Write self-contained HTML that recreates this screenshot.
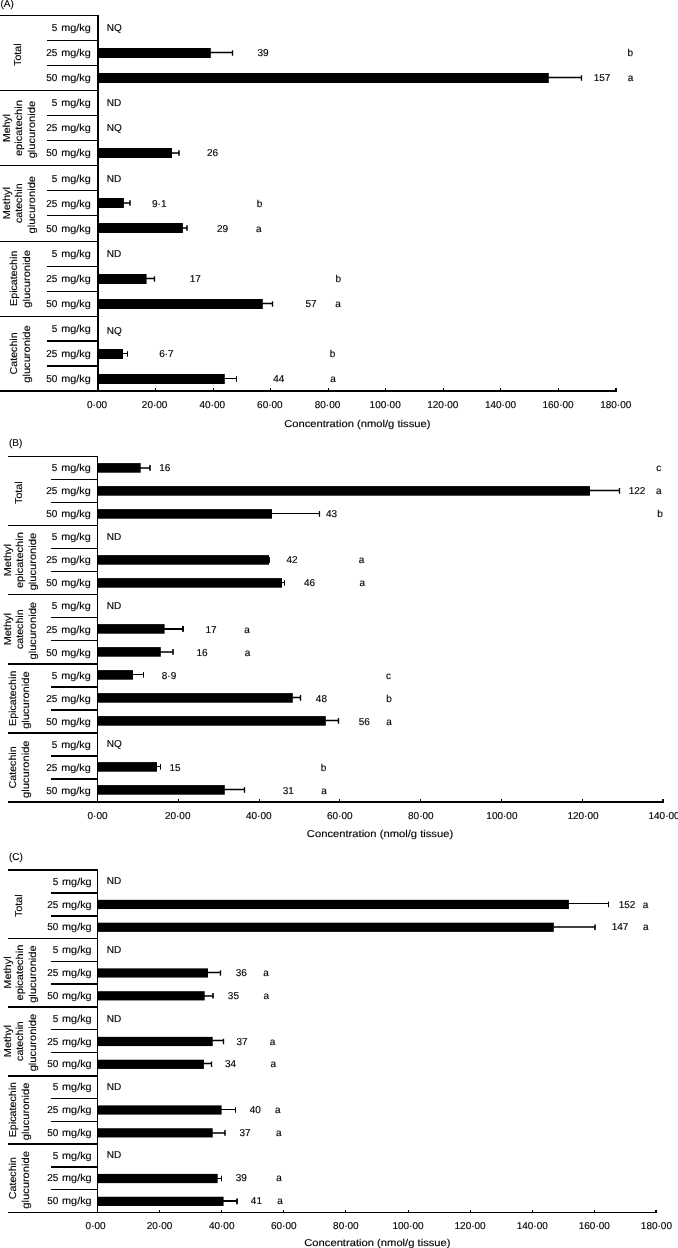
<!DOCTYPE html>
<html lang="en">
<head>
<meta charset="utf-8">
<title>Concentration of catechin metabolites in tissue</title>
<style>
html,body{margin:0;padding:0;background:#fff;}
body{width:678px;height:1248px;overflow:hidden;}
svg{display:block;text-rendering:geometricPrecision;}
.t,.t text{font-family:"Liberation Sans",sans-serif;font-size:10px;fill:#000;stroke:#000;stroke-width:.15px;}
.m text{text-anchor:middle;}
.w text{font-size:10px;}
.e text{text-anchor:end;}
.ln{shape-rendering:crispEdges;}
.ln rect{fill:#000;}
.bar rect{fill:#000;}
.er path{stroke:#000;fill:none;}
</style>
</head>
<body>
<svg width="678" height="1248" viewBox="0 0 678 1248">
<rect width="678" height="1248" fill="#fff"/>
<g class="panel">
<text class="t" x="0.5" y="7.2">(A)</text>
<g class="ln">
<rect x="0" y="15" width="97" height="1"/>
<rect x="47" y="40" width="50" height="1"/>
<rect x="47" y="65" width="50" height="1"/>
<rect x="0" y="90" width="97" height="1"/>
<rect x="47" y="115" width="50" height="1"/>
<rect x="47" y="140" width="50" height="1"/>
<rect x="0" y="165" width="97" height="1"/>
<rect x="47" y="190" width="50" height="1"/>
<rect x="47" y="215" width="50" height="1"/>
<rect x="0" y="241" width="97" height="1"/>
<rect x="47" y="266" width="50" height="1"/>
<rect x="47" y="291" width="50" height="1"/>
<rect x="0" y="316" width="97" height="1"/>
<rect x="47" y="340" width="50" height="2"/>
<rect x="47" y="365" width="50" height="2"/>
<rect x="0" y="390" width="617" height="2"/>
<rect x="97" y="15" width="2" height="375"/>
<rect x="155" y="388" width="1" height="2"/>
<rect x="213" y="388" width="1" height="2"/>
<rect x="270" y="388" width="1" height="2"/>
<rect x="328" y="388" width="1" height="2"/>
<rect x="385" y="388" width="1" height="2"/>
<rect x="443" y="388" width="1" height="2"/>
<rect x="500" y="388" width="1" height="2"/>
<rect x="558" y="388" width="1" height="2"/>
<rect x="615" y="388" width="2" height="2"/>
</g>
<g class="t m k">
<text x="97" y="408">0·00</text>
<text x="154.64" y="408">20·00</text>
<text x="212.27" y="408">40·00</text>
<text x="269.91" y="408">60·00</text>
<text x="327.54" y="408">80·00</text>
<text x="385.18" y="408">100·00</text>
<text x="442.81" y="408">120·00</text>
<text x="500.45" y="408">140·00</text>
<text x="558.08" y="408">160·00</text>
<text x="615.72" y="408">180·00</text>
</g>
<g class="t m w"><text textLength="146.3" lengthAdjust="spacingAndGlyphs" x="357.3" y="426.8">Concentration (nmol/g tissue)</text></g>
<g class="t e">
<text x="90.7" y="31"><tspan>5</tspan> <tspan dx="1" textLength="29.5" lengthAdjust="spacingAndGlyphs">mg/kg</tspan></text>
<text x="90.7" y="56"><tspan>25</tspan> <tspan dx="1" textLength="29.5" lengthAdjust="spacingAndGlyphs">mg/kg</tspan></text>
<text x="90.7" y="81"><tspan>50</tspan> <tspan dx="1" textLength="29.5" lengthAdjust="spacingAndGlyphs">mg/kg</tspan></text>
<text x="90.7" y="106"><tspan>5</tspan> <tspan dx="1" textLength="29.5" lengthAdjust="spacingAndGlyphs">mg/kg</tspan></text>
<text x="90.7" y="131"><tspan>25</tspan> <tspan dx="1" textLength="29.5" lengthAdjust="spacingAndGlyphs">mg/kg</tspan></text>
<text x="90.7" y="156"><tspan>50</tspan> <tspan dx="1" textLength="29.5" lengthAdjust="spacingAndGlyphs">mg/kg</tspan></text>
<text x="90.7" y="182"><tspan>5</tspan> <tspan dx="1" textLength="29.5" lengthAdjust="spacingAndGlyphs">mg/kg</tspan></text>
<text x="90.7" y="207"><tspan>25</tspan> <tspan dx="1" textLength="29.5" lengthAdjust="spacingAndGlyphs">mg/kg</tspan></text>
<text x="90.7" y="232"><tspan>50</tspan> <tspan dx="1" textLength="29.5" lengthAdjust="spacingAndGlyphs">mg/kg</tspan></text>
<text x="90.7" y="257"><tspan>5</tspan> <tspan dx="1" textLength="29.5" lengthAdjust="spacingAndGlyphs">mg/kg</tspan></text>
<text x="90.7" y="282"><tspan>25</tspan> <tspan dx="1" textLength="29.5" lengthAdjust="spacingAndGlyphs">mg/kg</tspan></text>
<text x="90.7" y="307"><tspan>50</tspan> <tspan dx="1" textLength="29.5" lengthAdjust="spacingAndGlyphs">mg/kg</tspan></text>
<text x="90.7" y="332"><tspan>5</tspan> <tspan dx="1" textLength="29.5" lengthAdjust="spacingAndGlyphs">mg/kg</tspan></text>
<text x="90.7" y="357"><tspan>25</tspan> <tspan dx="1" textLength="29.5" lengthAdjust="spacingAndGlyphs">mg/kg</tspan></text>
<text x="90.7" y="382"><tspan>50</tspan> <tspan dx="1" textLength="29.5" lengthAdjust="spacingAndGlyphs">mg/kg</tspan></text>
</g>
<g class="t m w">
<text textLength="22.6" lengthAdjust="spacingAndGlyphs" transform="translate(21.4 54.65) rotate(-90)">Total</text>
<text textLength="28" lengthAdjust="spacingAndGlyphs" transform="translate(10.2 128.13) rotate(-90)">Mehyl</text>
<text textLength="55.8" lengthAdjust="spacingAndGlyphs" transform="translate(22 128.13) rotate(-90)">epicatechin</text>
<text textLength="57.5" lengthAdjust="spacingAndGlyphs" transform="translate(35 129.63) rotate(-90)">glucuronide</text>
<text textLength="32.3" lengthAdjust="spacingAndGlyphs" transform="translate(10.2 203.23) rotate(-90)">Methyl</text>
<text textLength="39.6" lengthAdjust="spacingAndGlyphs" transform="translate(22 203.23) rotate(-90)">catechin</text>
<text textLength="57.5" lengthAdjust="spacingAndGlyphs" transform="translate(35 204.73) rotate(-90)">glucuronide</text>
<text textLength="55.3" lengthAdjust="spacingAndGlyphs" transform="translate(17.4 278.31) rotate(-90)">Epicatechin</text>
<text textLength="57.5" lengthAdjust="spacingAndGlyphs" transform="translate(29.6 278.92) rotate(-90)">glucuronide</text>
<text textLength="42" lengthAdjust="spacingAndGlyphs" transform="translate(17.4 353.41) rotate(-90)">Catechin</text>
<text textLength="57.5" lengthAdjust="spacingAndGlyphs" transform="translate(29.6 354.01) rotate(-90)">glucuronide</text>
</g>
<g class="bar"><rect x="97" y="48" width="113.8" height="10"/><rect x="97" y="73" width="451.8" height="10"/><rect x="97" y="148" width="75" height="10"/><rect x="97" y="198" width="26.9" height="10"/><rect x="97" y="223" width="85.9" height="10"/><rect x="97" y="274" width="49.6" height="10"/><rect x="97" y="299" width="165.8" height="10"/><rect x="97" y="349" width="26" height="10"/><rect x="97" y="374" width="127.8" height="10"/></g>
<g class="er"><path stroke-width="1.3" d="M210.3 52.5H232.5M232.5 50.2V55.8"/><path stroke-width="1.3" d="M548.3 77.5H581.5M581.5 75.2V80.8"/><path stroke-width="1.5" d="M171.5 153H179M179 150.2V155.8"/><path stroke-width="1.5" d="M123.4 203H130M130 200.2V205.8"/><path stroke-width="1.5" d="M182.4 228H187M187 225.2V230.8"/><path stroke-width="1.3" d="M146.1 278.5H154.5M154.5 276.2V281.8"/><path stroke-width="1.3" d="M262.3 303.5H272.5M272.5 301.2V306.8"/><path stroke-width="1" d="M122.5 353.5H127.5M127.5 351.2V356.8"/><path stroke-width="1" d="M224.3 378.5H236.5M236.5 376.2V381.8"/></g>
<g class="t"><text x="106.8" y="31">NQ</text><text text-anchor="middle" x="263" y="56">39</text><text text-anchor="middle" x="630.2" y="56">b</text><text text-anchor="middle" x="602" y="81">157</text><text text-anchor="middle" x="630.5" y="81">a</text><text x="106.8" y="106">ND</text><text x="106.8" y="131">NQ</text><text text-anchor="middle" x="212.5" y="156">26</text><text x="106.8" y="182">ND</text><text text-anchor="middle" x="159.3" y="207">9·1</text><text text-anchor="middle" x="259.5" y="207">b</text><text text-anchor="middle" x="222.5" y="232">29</text><text text-anchor="middle" x="258.7" y="232">a</text><text x="106.8" y="257">ND</text><text text-anchor="middle" x="195.3" y="282">17</text><text text-anchor="middle" x="338.4" y="282">b</text><text text-anchor="middle" x="311" y="307">57</text><text text-anchor="middle" x="338" y="307">a</text><text x="106.8" y="334">NQ</text><text text-anchor="middle" x="166.4" y="357">6·7</text><text text-anchor="middle" x="332.5" y="357">b</text><text text-anchor="middle" x="278.8" y="382">44</text><text text-anchor="middle" x="333" y="382">a</text></g>
</g>
<g class="panel">
<text class="t" x="9" y="445.8">(B)</text>
<g class="ln">
<rect x="8" y="456" width="89" height="1"/>
<rect x="51" y="479" width="46" height="1"/>
<rect x="51" y="502" width="46" height="1"/>
<rect x="8" y="525" width="89" height="1"/>
<rect x="51" y="548" width="46" height="1"/>
<rect x="51" y="571" width="46" height="1"/>
<rect x="8" y="594" width="89" height="1"/>
<rect x="51" y="617" width="46" height="1"/>
<rect x="51" y="640" width="46" height="1"/>
<rect x="8" y="663" width="89" height="2"/>
<rect x="51" y="686" width="46" height="2"/>
<rect x="51" y="709" width="46" height="2"/>
<rect x="8" y="732" width="89" height="2"/>
<rect x="51" y="755" width="46" height="2"/>
<rect x="51" y="778" width="46" height="2"/>
<rect x="8" y="801" width="656" height="2"/>
<rect x="97" y="456" width="1" height="345"/>
<rect x="178" y="799" width="1" height="2"/>
<rect x="259" y="799" width="1" height="2"/>
<rect x="339" y="799" width="1" height="2"/>
<rect x="420" y="799" width="1" height="2"/>
<rect x="501" y="799" width="1" height="2"/>
<rect x="582" y="799" width="1" height="2"/>
<rect x="662" y="799" width="2" height="2"/>
</g>
<g class="t m k">
<text x="97.5" y="819">0·00</text>
<text x="177.67" y="819">20·00</text>
<text x="258.73" y="819">40·00</text>
<text x="339.8" y="819">60·00</text>
<text x="420.86" y="819">80·00</text>
<text x="501.93" y="819">100·00</text>
<text x="582.99" y="819">120·00</text>
<text x="664.06" y="819">140·00</text>
</g>
<g class="t m w"><text textLength="146.3" lengthAdjust="spacingAndGlyphs" x="380" y="837">Concentration (nmol/g tissue)</text></g>
<g class="t e">
<text x="90.7" y="471"><tspan>5</tspan> <tspan dx="1" textLength="29.5" lengthAdjust="spacingAndGlyphs">mg/kg</tspan></text>
<text x="90.7" y="494"><tspan>25</tspan> <tspan dx="1" textLength="29.5" lengthAdjust="spacingAndGlyphs">mg/kg</tspan></text>
<text x="90.7" y="517"><tspan>50</tspan> <tspan dx="1" textLength="29.5" lengthAdjust="spacingAndGlyphs">mg/kg</tspan></text>
<text x="90.7" y="540"><tspan>5</tspan> <tspan dx="1" textLength="29.5" lengthAdjust="spacingAndGlyphs">mg/kg</tspan></text>
<text x="90.7" y="563"><tspan>25</tspan> <tspan dx="1" textLength="29.5" lengthAdjust="spacingAndGlyphs">mg/kg</tspan></text>
<text x="90.7" y="586"><tspan>50</tspan> <tspan dx="1" textLength="29.5" lengthAdjust="spacingAndGlyphs">mg/kg</tspan></text>
<text x="90.7" y="609"><tspan>5</tspan> <tspan dx="1" textLength="29.5" lengthAdjust="spacingAndGlyphs">mg/kg</tspan></text>
<text x="90.7" y="633"><tspan>25</tspan> <tspan dx="1" textLength="29.5" lengthAdjust="spacingAndGlyphs">mg/kg</tspan></text>
<text x="90.7" y="656"><tspan>50</tspan> <tspan dx="1" textLength="29.5" lengthAdjust="spacingAndGlyphs">mg/kg</tspan></text>
<text x="90.7" y="679"><tspan>5</tspan> <tspan dx="1" textLength="29.5" lengthAdjust="spacingAndGlyphs">mg/kg</tspan></text>
<text x="90.7" y="702"><tspan>25</tspan> <tspan dx="1" textLength="29.5" lengthAdjust="spacingAndGlyphs">mg/kg</tspan></text>
<text x="90.7" y="725"><tspan>50</tspan> <tspan dx="1" textLength="29.5" lengthAdjust="spacingAndGlyphs">mg/kg</tspan></text>
<text x="90.7" y="748"><tspan>5</tspan> <tspan dx="1" textLength="29.5" lengthAdjust="spacingAndGlyphs">mg/kg</tspan></text>
<text x="90.7" y="771"><tspan>25</tspan> <tspan dx="1" textLength="29.5" lengthAdjust="spacingAndGlyphs">mg/kg</tspan></text>
<text x="90.7" y="794"><tspan>50</tspan> <tspan dx="1" textLength="29.5" lengthAdjust="spacingAndGlyphs">mg/kg</tspan></text>
</g>
<g class="t m w">
<text textLength="22.6" lengthAdjust="spacingAndGlyphs" transform="translate(21.7 492.65) rotate(-90)">Total</text>
<text textLength="32.3" lengthAdjust="spacingAndGlyphs" transform="translate(10.8 560.13) rotate(-90)">Methyl</text>
<text textLength="55.8" lengthAdjust="spacingAndGlyphs" transform="translate(23.1 560.13) rotate(-90)">epicatechin</text>
<text textLength="57.5" lengthAdjust="spacingAndGlyphs" transform="translate(35.6 561.63) rotate(-90)">glucuronide</text>
<text textLength="32.3" lengthAdjust="spacingAndGlyphs" transform="translate(10.8 629.23) rotate(-90)">Methyl</text>
<text textLength="39.6" lengthAdjust="spacingAndGlyphs" transform="translate(23.1 629.23) rotate(-90)">catechin</text>
<text textLength="57.5" lengthAdjust="spacingAndGlyphs" transform="translate(35.6 630.73) rotate(-90)">glucuronide</text>
<text textLength="55.3" lengthAdjust="spacingAndGlyphs" transform="translate(16.4 698.32) rotate(-90)">Epicatechin</text>
<text textLength="57.5" lengthAdjust="spacingAndGlyphs" transform="translate(29.2 700.12) rotate(-90)">glucuronide</text>
<text textLength="42" lengthAdjust="spacingAndGlyphs" transform="translate(16.4 767.4) rotate(-90)">Catechin</text>
<text textLength="57.5" lengthAdjust="spacingAndGlyphs" transform="translate(29.2 769.2) rotate(-90)">glucuronide</text>
</g>
<g class="bar"><rect x="97" y="463.1" width="43.7" height="9.6"/><rect x="97" y="486.1" width="493" height="9.6"/><rect x="97" y="509.1" width="175" height="9.6"/><rect x="97" y="555.1" width="172" height="9.6"/><rect x="97" y="578.1" width="185" height="9.6"/><rect x="97" y="624.1" width="67.6" height="9.6"/><rect x="97" y="647.1" width="63.8" height="9.6"/><rect x="97" y="670.1" width="36" height="9.6"/><rect x="97" y="693.1" width="195.8" height="9.6"/><rect x="97" y="716.1" width="228.8" height="9.6"/><rect x="97" y="762.1" width="60" height="9.6"/><rect x="97" y="785.1" width="127.8" height="9.6"/></g>
<g class="er"><path stroke-width="1.6" d="M140.2 468H150M150 465.1V470.7"/><path stroke-width="1.3" d="M589.5 490.5H619.5M619.5 488.1V493.7"/><path stroke-width="1.2" d="M271.5 513.5H319.5M319.5 511.1V516.7"/><path stroke-width="1" d="M268.5 559.5H269.5M269.5 557.1V562.7"/><path stroke-width="1" d="M281.5 582.5H284.5M284.5 580.1V585.7"/><path stroke-width="2" d="M164.1 629H183M183 626.1V631.7"/><path stroke-width="1.6" d="M160.3 652H173M173 649.1V654.7"/><path stroke-width="1" d="M132.5 674.5H143.5M143.5 672.1V677.7"/><path stroke-width="1.4" d="M292.3 697.5H300.5M300.5 695.1V700.7"/><path stroke-width="1.3" d="M325.3 720.5H338.5M338.5 718.1V723.7"/><path stroke-width="1" d="M156.5 766.5H160.5M160.5 764.1V769.7"/><path stroke-width="1.3" d="M224.3 789.5H244.5M244.5 787.1V792.7"/></g>
<g class="t"><text text-anchor="middle" x="164.8" y="471">16</text><text text-anchor="middle" x="658.7" y="471">c</text><text text-anchor="middle" x="637" y="494">122</text><text text-anchor="middle" x="658.7" y="494">a</text><text text-anchor="middle" x="331.5" y="517">43</text><text text-anchor="middle" x="660" y="517">b</text><text x="106.8" y="540">ND</text><text text-anchor="middle" x="292" y="563">42</text><text text-anchor="middle" x="361.5" y="563">a</text><text text-anchor="middle" x="309.5" y="586">46</text><text text-anchor="middle" x="362.4" y="586">a</text><text x="106.8" y="609">ND</text><text text-anchor="middle" x="211" y="633">17</text><text text-anchor="middle" x="247" y="633">a</text><text text-anchor="middle" x="202" y="656">16</text><text text-anchor="middle" x="247.5" y="656">a</text><text text-anchor="middle" x="169" y="679">8·9</text><text text-anchor="middle" x="388.4" y="679">c</text><text text-anchor="middle" x="321.4" y="702">48</text><text text-anchor="middle" x="389" y="702">b</text><text text-anchor="middle" x="364.2" y="725">56</text><text text-anchor="middle" x="389" y="725">a</text><text x="106.8" y="747">NQ</text><text text-anchor="middle" x="175" y="771">15</text><text text-anchor="middle" x="323.5" y="771">b</text><text text-anchor="middle" x="288.2" y="794">31</text><text text-anchor="middle" x="324" y="794">a</text></g>
</g>
<g class="panel">
<text class="t" x="9" y="860.4">(C)</text>
<g class="ln">
<rect x="8" y="869" width="89" height="2"/>
<rect x="51" y="892" width="46" height="2"/>
<rect x="51" y="915" width="46" height="2"/>
<rect x="8" y="938" width="89" height="1"/>
<rect x="51" y="961" width="46" height="1"/>
<rect x="51" y="983" width="46" height="2"/>
<rect x="8" y="1006" width="89" height="2"/>
<rect x="51" y="1029" width="46" height="1"/>
<rect x="51" y="1052" width="46" height="1"/>
<rect x="8" y="1075" width="89" height="2"/>
<rect x="51" y="1098" width="46" height="1"/>
<rect x="51" y="1121" width="46" height="1"/>
<rect x="8" y="1143" width="89" height="2"/>
<rect x="51" y="1166" width="46" height="2"/>
<rect x="51" y="1189" width="46" height="1"/>
<rect x="8" y="1212" width="649" height="1"/>
<rect x="97" y="869" width="1" height="343"/>
<rect x="159" y="1210" width="1" height="2"/>
<rect x="221" y="1210" width="1" height="2"/>
<rect x="283" y="1210" width="1" height="2"/>
<rect x="345" y="1210" width="1" height="2"/>
<rect x="408" y="1210" width="1" height="2"/>
<rect x="470" y="1210" width="1" height="2"/>
<rect x="532" y="1210" width="1" height="2"/>
<rect x="594" y="1210" width="1" height="2"/>
<rect x="655" y="1210" width="2" height="2"/>
</g>
<g class="t m k">
<text x="95.6" y="1229">0·00</text>
<text x="159.6" y="1229">20·00</text>
<text x="221.7" y="1229">40·00</text>
<text x="283.8" y="1229">60·00</text>
<text x="345.9" y="1229">80·00</text>
<text x="408" y="1229">100·00</text>
<text x="470.1" y="1229">120·00</text>
<text x="532.2" y="1229">140·00</text>
<text x="594.3" y="1229">160·00</text>
<text x="656.4" y="1229">180·00</text>
</g>
<g class="t m w"><text textLength="146.3" lengthAdjust="spacingAndGlyphs" x="377.4" y="1246.4">Concentration (nmol/g tissue)</text></g>
<g class="t e">
<text x="91.6" y="885"><tspan>5</tspan> <tspan dx="1" textLength="29.5" lengthAdjust="spacingAndGlyphs">mg/kg</tspan></text>
<text x="91.6" y="908"><tspan>25</tspan> <tspan dx="1" textLength="29.5" lengthAdjust="spacingAndGlyphs">mg/kg</tspan></text>
<text x="91.6" y="930"><tspan>50</tspan> <tspan dx="1" textLength="29.5" lengthAdjust="spacingAndGlyphs">mg/kg</tspan></text>
<text x="91.6" y="953"><tspan>5</tspan> <tspan dx="1" textLength="29.5" lengthAdjust="spacingAndGlyphs">mg/kg</tspan></text>
<text x="91.6" y="976"><tspan>25</tspan> <tspan dx="1" textLength="29.5" lengthAdjust="spacingAndGlyphs">mg/kg</tspan></text>
<text x="91.6" y="999"><tspan>50</tspan> <tspan dx="1" textLength="29.5" lengthAdjust="spacingAndGlyphs">mg/kg</tspan></text>
<text x="91.6" y="1022"><tspan>5</tspan> <tspan dx="1" textLength="29.5" lengthAdjust="spacingAndGlyphs">mg/kg</tspan></text>
<text x="91.6" y="1045"><tspan>25</tspan> <tspan dx="1" textLength="29.5" lengthAdjust="spacingAndGlyphs">mg/kg</tspan></text>
<text x="91.6" y="1067"><tspan>50</tspan> <tspan dx="1" textLength="29.5" lengthAdjust="spacingAndGlyphs">mg/kg</tspan></text>
<text x="91.6" y="1090"><tspan>5</tspan> <tspan dx="1" textLength="29.5" lengthAdjust="spacingAndGlyphs">mg/kg</tspan></text>
<text x="91.6" y="1113"><tspan>25</tspan> <tspan dx="1" textLength="29.5" lengthAdjust="spacingAndGlyphs">mg/kg</tspan></text>
<text x="91.6" y="1136"><tspan>50</tspan> <tspan dx="1" textLength="29.5" lengthAdjust="spacingAndGlyphs">mg/kg</tspan></text>
<text x="91.6" y="1159"><tspan>5</tspan> <tspan dx="1" textLength="29.5" lengthAdjust="spacingAndGlyphs">mg/kg</tspan></text>
<text x="91.6" y="1181"><tspan>25</tspan> <tspan dx="1" textLength="29.5" lengthAdjust="spacingAndGlyphs">mg/kg</tspan></text>
<text x="91.6" y="1204"><tspan>50</tspan> <tspan dx="1" textLength="29.5" lengthAdjust="spacingAndGlyphs">mg/kg</tspan></text>
</g>
<g class="t m w">
<text textLength="22.6" lengthAdjust="spacingAndGlyphs" transform="translate(21.7 905.66) rotate(-90)">Total</text>
<text textLength="32.3" lengthAdjust="spacingAndGlyphs" transform="translate(10.8 972.58) rotate(-90)">Methyl</text>
<text textLength="55.8" lengthAdjust="spacingAndGlyphs" transform="translate(23.1 972.58) rotate(-90)">epicatechin</text>
<text textLength="57.5" lengthAdjust="spacingAndGlyphs" transform="translate(35.6 974.08) rotate(-90)">glucuronide</text>
<text textLength="32.3" lengthAdjust="spacingAndGlyphs" transform="translate(10.8 1041.1) rotate(-90)">Methyl</text>
<text textLength="39.6" lengthAdjust="spacingAndGlyphs" transform="translate(23.1 1041.1) rotate(-90)">catechin</text>
<text textLength="57.5" lengthAdjust="spacingAndGlyphs" transform="translate(35.6 1042.6) rotate(-90)">glucuronide</text>
<text textLength="55.3" lengthAdjust="spacingAndGlyphs" transform="translate(16.4 1109.62) rotate(-90)">Epicatechin</text>
<text textLength="57.5" lengthAdjust="spacingAndGlyphs" transform="translate(29.2 1111.42) rotate(-90)">glucuronide</text>
<text textLength="42" lengthAdjust="spacingAndGlyphs" transform="translate(16.4 1178.14) rotate(-90)">Catechin</text>
<text textLength="57.5" lengthAdjust="spacingAndGlyphs" transform="translate(29.2 1179.94) rotate(-90)">glucuronide</text>
</g>
<g class="bar"><rect x="97" y="899.84" width="471.9" height="9.2"/><rect x="97" y="922.68" width="456.8" height="9.2"/><rect x="97" y="968.36" width="111" height="9.2"/><rect x="97" y="991.2" width="107.7" height="9.2"/><rect x="97" y="1036.88" width="115.7" height="9.2"/><rect x="97" y="1059.72" width="106.9" height="9.2"/><rect x="97" y="1105.4" width="124.6" height="9.2"/><rect x="97" y="1128.24" width="115.7" height="9.2"/><rect x="97" y="1173.92" width="120.7" height="9.2"/><rect x="97" y="1196.76" width="126.6" height="9.2"/></g>
<g class="er"><path stroke-width="1" d="M568.4 903.5H608.5M608.5 901.64V907.24"/><path stroke-width="1.6" d="M553.3 927H595M595 924.48V930.08"/><path stroke-width="1.3" d="M207.5 972.5H220.5M220.5 970.16V975.76"/><path stroke-width="1.6" d="M204.2 996H213M213 993V998.6"/><path stroke-width="1.3" d="M212.2 1040.5H223.5M223.5 1038.68V1044.28"/><path stroke-width="1.3" d="M203.4 1063.5H211.5M211.5 1061.52V1067.12"/><path stroke-width="1" d="M221.1 1109.5H235.5M235.5 1107.2V1112.8"/><path stroke-width="1.5" d="M212.2 1133H225M225 1130.04V1135.64"/><path stroke-width="1" d="M217.2 1178.5H221.5M221.5 1175.72V1181.32"/><path stroke-width="1.8" d="M223.1 1201H237M237 1198.56V1204.16"/></g>
<g class="t"><text x="106.8" y="884">ND</text><text text-anchor="middle" x="627" y="908">152</text><text text-anchor="middle" x="645.6" y="908">a</text><text text-anchor="middle" x="620" y="930">147</text><text text-anchor="middle" x="645.8" y="930">a</text><text x="106.8" y="953">ND</text><text text-anchor="middle" x="241.2" y="976">36</text><text text-anchor="middle" x="266" y="976">a</text><text text-anchor="middle" x="233.4" y="999">35</text><text text-anchor="middle" x="266.4" y="999">a</text><text x="106.8" y="1022">ND</text><text text-anchor="middle" x="242" y="1045">37</text><text text-anchor="middle" x="272.6" y="1045">a</text><text text-anchor="middle" x="230.5" y="1067">34</text><text text-anchor="middle" x="273.2" y="1067">a</text><text x="106.8" y="1090">ND</text><text text-anchor="middle" x="255.2" y="1113">40</text><text text-anchor="middle" x="277.9" y="1113">a</text><text text-anchor="middle" x="245" y="1136">37</text><text text-anchor="middle" x="278.8" y="1136">a</text><text x="106.8" y="1158">ND</text><text text-anchor="middle" x="241.3" y="1181">39</text><text text-anchor="middle" x="279" y="1181">a</text><text text-anchor="middle" x="256.4" y="1204">41</text><text text-anchor="middle" x="280" y="1204">a</text></g>
</g>
</svg>
</body>
</html>
